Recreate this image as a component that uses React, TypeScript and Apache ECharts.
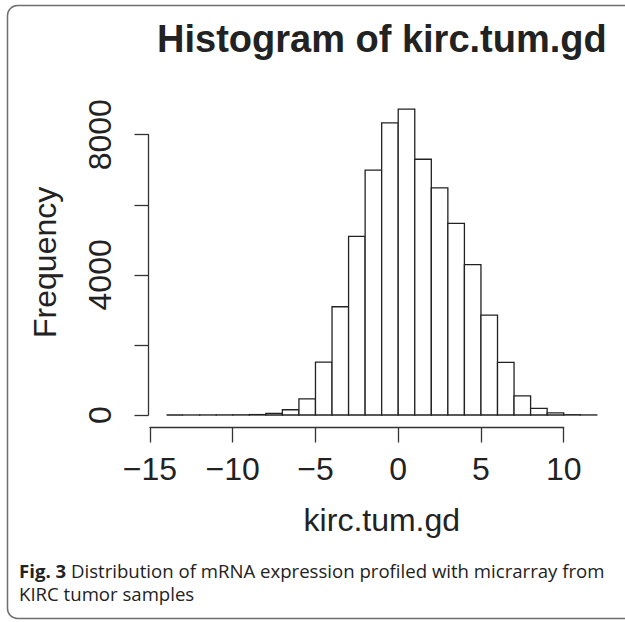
import React, { useEffect, useRef } from "react";
import * as echarts from "echarts";

// Histogram bin edges (left edge of each bin) and right edges
const binStarts = [-14, -13, -12, -11, -10, -9, -8, -7, -6, -5, -4, -3, -2, -1, 0, 1, 2, 3, 4, 5, 6, 7, 8, 9, 10, 11];
const binEnds = [-13, -12, -11, -10, -9, -8, -7, -6, -5, -4, -3, -2, -1, 0, 1, 2, 3, 4, 5, 6, 7, 8, 9, 10, 11, 12];
// Frequencies
const counts = [0, 1, 2, 3, 5, 12, 45, 150, 460, 1510, 3090, 5100, 6990, 8340, 8730, 7300, 6480, 5470, 4290, 2850, 1500, 545, 190, 60, 8, 2];

const xTicks = [-15, -10, -5, 0, 5, 10];
const yTicks = [0, 2000, 4000, 6000, 8000];
const yLabelValues = [0, 4000, 8000];

const titleText = "Histogram of kirc.tum.gd";
const xName = "kirc.tum.gd";
const yName = "Frequency";
const captionBold = "Fig. 3";
const captionLine1 = " Distribution of mRNA expression profiled with micrarray from";
const captionLine2 = "KIRC tumor samples";

const FONT = "Liberation Sans, Arial, Helvetica, sans-serif";
const CAPTION_FONT = "Open Sans, sans-serif";
const INK = "#222";

export default function App() {
  const ref = useRef<HTMLDivElement>(null);

  useEffect(() => {
    if (!ref.current) return;
    const chart = echarts.init(ref.current, null, { renderer: "svg" });
    const data = binStarts.map((s, i) => [s, binEnds[i], counts[i]]);
    const fmtNum = (v: number) => (v < 0 ? "\u2212" + Math.abs(v) : String(v));

    chart.setOption({
      animation: false,
      backgroundColor: "#ffffff",
      title: {
        text: titleText,
        left: 157,
        top: 19.5,
        padding: 0,
        textStyle: { fontSize: 38, fontWeight: "bold", fontFamily: FONT, color: INK, lineHeight: 38 },
      },
      grid: { left: 150, top: 134.7, width: 413.7, height: 280.3, containLabel: false },
      xAxis: {
        type: "value",
        min: xTicks[0],
        max: xTicks[xTicks.length - 1],
        interval: 5,
        offset: 12.5,
        splitLine: { show: false },
        axisLine: { show: true, onZero: false, lineStyle: { color: "#333", width: 1.3 } },
        axisTick: { show: true, length: 15, lineStyle: { color: "#333", width: 1.3 } },
        axisLabel: {
          margin: 25,
          fontSize: 32,
          lineHeight: 32,
          fontFamily: FONT,
          color: INK,
          formatter: (v: number) => (xTicks.includes(v) ? fmtNum(v) : ""),
        },
        name: xName,
        nameLocation: "middle",
        nameGap: 76,
        nameTextStyle: { fontSize: 32, lineHeight: 32, fontFamily: FONT, color: INK, padding: [0, 0, 0, 50] },
      },
      yAxis: {
        type: "value",
        min: yTicks[0],
        max: yTicks[yTicks.length - 1],
        interval: 2000,
        offset: 1.5,
        splitLine: { show: false },
        axisLine: { show: true, onZero: false, lineStyle: { color: "#333", width: 1.3 } },
        axisTick: { show: true, length: 14, lineStyle: { color: "#333", width: 1.3 } },
        axisLabel: {
          rotate: 90,
          margin: 32.5,
          fontSize: 32,
          lineHeight: 32,
          fontFamily: FONT,
          color: INK,
          formatter: (v: number) => (yLabelValues.includes(v) ? String(v) : ""),
        },
        name: yName,
        nameLocation: "middle",
        nameRotate: 90,
        nameGap: 87.5,
        nameTextStyle: { fontSize: 32, lineHeight: 32, fontFamily: FONT, color: INK, padding: [0, 0, 0, 25] },
      },
      series: [
        {
          type: "custom",
          clip: false,
          encode: { x: [0, 1], y: 2 },
          data,
          renderItem: (_params: any, api: any) => {
            const p0 = api.coord([api.value(0), api.value(2)]);
            const p1 = api.coord([api.value(1), 0]);
            return {
              type: "rect",
              shape: { x: p0[0], y: p0[1], width: p1[0] - p0[0], height: p1[1] - p0[1] },
              style: { fill: "#ffffff", stroke: INK, lineWidth: 1.3 },
            };
          },
        },
      ],
      graphic: [
        {
          type: "rect",
          z: -10,
          silent: true,
          shape: { x: 7.5, y: 5.5, width: 700, height: 613, r: 10 },
          style: { fill: "none", stroke: "#6e6e6e", lineWidth: 1.5 },
        },
        {
          type: "text",
          left: 19,
          top: 559,
          style: {
            text: "{b|" + captionBold + "}" + captionLine1 + "\n" + captionLine2,
            fontSize: 18.6,
            fontFamily: CAPTION_FONT,
            fill: INK,
            lineHeight: 23,
            rich: {
              b: { fontSize: 18.6, fontWeight: "bold", fontFamily: CAPTION_FONT, fill: INK, lineHeight: 23 },
            },
          },
        },
      ],
    });

    return () => chart.dispose();
  }, []);

  return <div ref={ref} style={{ position: "absolute", left: 0, top: 0, width: 625, height: 622 }} />;
}
